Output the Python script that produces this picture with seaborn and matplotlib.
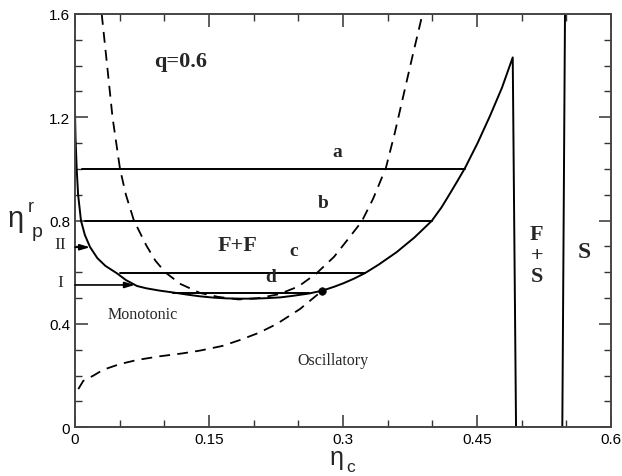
import numpy as np
import pandas as pd
import matplotlib
matplotlib.use("Agg")
import matplotlib.pyplot as plt
import seaborn as sns

# ---- data ----
# solid boundary (binodal + F+S / S boundaries)
bin_x = [0.0, 0.0006, 0.0019, 0.0035, 0.0067, 0.0110, 0.0168, 0.0250, 0.0340, 0.0470,
         0.0570, 0.0694, 0.0800, 0.0950, 0.1097, 0.1250, 0.1400, 0.1550, 0.1700, 0.1850,
         0.2000, 0.2150, 0.2300, 0.2440, 0.2620, 0.2768, 0.2900, 0.3000, 0.3120, 0.3247,
         0.3400, 0.3600, 0.3800, 0.3993, 0.4100, 0.4180, 0.4275, 0.4366, 0.4506, 0.4646,
         0.4780, 0.4900, 0.4937, 0.5455, 0.5485]
bin_y = [1.221, 1.120, 1.000, 0.900, 0.800, 0.745, 0.698, 0.655, 0.625, 0.596,
         0.570, 0.547, 0.538, 0.529, 0.522, 0.514, 0.507, 0.502, 0.499, 0.498,
         0.498, 0.500, 0.503, 0.509, 0.518, 0.529, 0.544, 0.557, 0.575, 0.597,
         0.630, 0.678, 0.735, 0.799, 0.850, 0.895, 0.950, 1.004, 1.100, 1.206,
         1.315, 1.432, 0.0, 0.0, 1.6]

# dashed U-shaped curve
u_x = [0.0299, 0.0360, 0.0420, 0.0504, 0.0570, 0.0660, 0.0800, 0.0900, 0.1010, 0.1180,
       0.1400, 0.1600, 0.1830, 0.2050, 0.2280, 0.2500, 0.2700, 0.2900, 0.3060, 0.3210,
       0.3336, 0.3480, 0.3580, 0.3680, 0.3780, 0.3890]
u_y = [1.600, 1.400, 1.200, 1.000, 0.900, 0.800, 0.703, 0.645, 0.600, 0.555,
       0.520, 0.505, 0.495, 0.500, 0.515, 0.545, 0.595, 0.660, 0.730, 0.797,
       0.884, 1.004, 1.140, 1.290, 1.440, 1.600]

# dashed lower (monotonic/oscillatory) line
fw_x = [0.0037, 0.0093, 0.0205, 0.0317, 0.0504, 0.0700, 0.0952, 0.1200, 0.1400, 0.1650,
        0.1847, 0.2060, 0.2258, 0.2519, 0.2768]
fw_y = [0.148, 0.180, 0.200, 0.223, 0.245, 0.261, 0.275, 0.286, 0.297, 0.315,
        0.338, 0.366, 0.400, 0.458, 0.529]

# tie lines
tie_names = ["a", "b", "c", "d"]
tie_y = [1.0, 0.8, 0.596, 0.52]
tie_x0 = [0.0075, 0.011, 0.050, 0.110]
tie_x1 = [0.4366, 0.3993, 0.3247, 0.262]
tie_label_x = [0.2933, 0.2776, 0.2452, 0.2194]
tie_label_y = [1.066, 0.872, 0.683, 0.582]

# end point
dot_x, dot_y = [0.2768], [0.529]

# arrows I and II
arrow_names = ["I", "II"]
arrow_y = [0.551, 0.697]
arrow_x1 = [0.067, 0.0168]

xticks = [0, 0.15, 0.3, 0.45, 0.6]
xtick_labels = ["0", "0.15", "0.3", "0.45", "0.6"]
yticks = [0, 0.4, 0.8, 1.2, 1.6]
ytick_labels = ["0", "0.4", "0.8", "1.2", "1.6"]

# ---- plotting ----
sns.set_style("ticks")
plt.rcParams["font.family"] = ["Liberation Sans", "DejaVu Sans"]

fig = plt.figure(figsize=(6.22, 4.77), dpi=100)
ax = fig.add_axes([75/622, 1-428.3/477, (611-75)/622, (428.3-15)/477])

lw = 1.4
sns.lineplot(x=bin_x, y=bin_y, sort=False, estimator=None, color="black", lw=lw, ax=ax)
sns.lineplot(x=u_x, y=u_y, sort=False, estimator=None, color="black", lw=1.3,
             linestyle=(0, (6, 4)), ax=ax)
sns.lineplot(x=fw_x, y=fw_y, sort=False, estimator=None, color="black", lw=1.3,
             linestyle=(0, (6, 4)), ax=ax)
for y, x0, x1 in zip(tie_y, tie_x0, tie_x1):
    sns.lineplot(x=[x0, x1], y=[y, y], color="black", lw=lw, ax=ax)
sns.scatterplot(x=dot_x, y=dot_y, color="black", s=30, ax=ax, zorder=5, edgecolor="black")

serif = ["Liberation Serif", "DejaVu Serif"]
for n, lx, ly in zip(tie_names, tie_label_x, tie_label_y):
    ax.text(lx, ly, n, fontsize=14, fontweight="bold", family=serif, ha="center", va="center")

ax.text(0.1187, 1.418, "q=0.6", fontsize=16, fontweight="bold", family=serif, ha="center", va="center")
ax.text(0.1825, 0.706, "F+F", fontsize=16, fontweight="bold", family=serif, ha="center", va="center")
ax.text(0.517, 0.667, "F\n+\nS", fontsize=16, fontweight="bold", family=serif, ha="center",
        va="center", linespacing=1.05)
ax.text(0.5698, 0.679, "S", fontsize=17, fontweight="bold", family=serif, ha="center", va="center")
ax.text(0.0761, 0.439, "Monotonic", fontsize=11.5, family=serif, ha="center", va="center")
ax.text(0.2888, 0.261, "Oscillatory", fontsize=11.5, family=serif, ha="center", va="center")

for n, y, x1 in zip(arrow_names, arrow_y, arrow_x1):
    ax.annotate("", xy=(x1, y), xytext=(0.0, y),
                arrowprops=dict(arrowstyle="-|>,head_length=0.6,head_width=0.18",
                                color="black", lw=1.2, shrinkA=0, shrinkB=0))
    ax.text(-0.0165, y + 0.011, n, fontsize=12.5, family=serif, ha="center", va="center",
            clip_on=False)

ax.set_xlim(0, 0.6)
ax.set_ylim(0, 1.6)
ax.set_xticks(xticks)
ax.set_xticklabels(xtick_labels)
ax.set_yticks(yticks)
ax.set_yticklabels(ytick_labels)
ax.set_xticks(np.arange(0, 0.6001, 0.05), minor=True)
ax.set_yticks(np.arange(0, 1.6001, 0.1), minor=True)
ax.tick_params(which="both", direction="in", top=True, right=True, colors="#333333",
               labelcolor="black", labelsize=11)
ax.tick_params(which="major", length=9, width=1.1)
ax.tick_params(which="minor", length=5, width=1.0)
for s in ax.spines.values():
    s.set_color("#444444")
    s.set_linewidth(1.4)
ax.set_xlabel("")
ax.set_ylabel("")

sans = ["Liberation Sans", "DejaVu Sans"]
# x-axis label: eta with subscript c
fig.text(330/622, 1-465/477, "η", fontsize=18, family=sans, ha="left", va="baseline")
fig.text(346/622, 1-472/477, "c", fontsize=12.5, family=sans, ha="left", va="baseline")
# y-axis label: eta with superscript r and subscript p
fig.text(8/622, 1-227/477, "η", fontsize=21, family=sans, ha="left", va="baseline")
fig.text(28/622, 1-212/477, "r", fontsize=13, family=sans, ha="left", va="baseline")
fig.text(32/622, 1-237/477, "p", fontsize=14, family=sans, ha="left", va="baseline")

fig.savefig("out.png", dpi=100)
